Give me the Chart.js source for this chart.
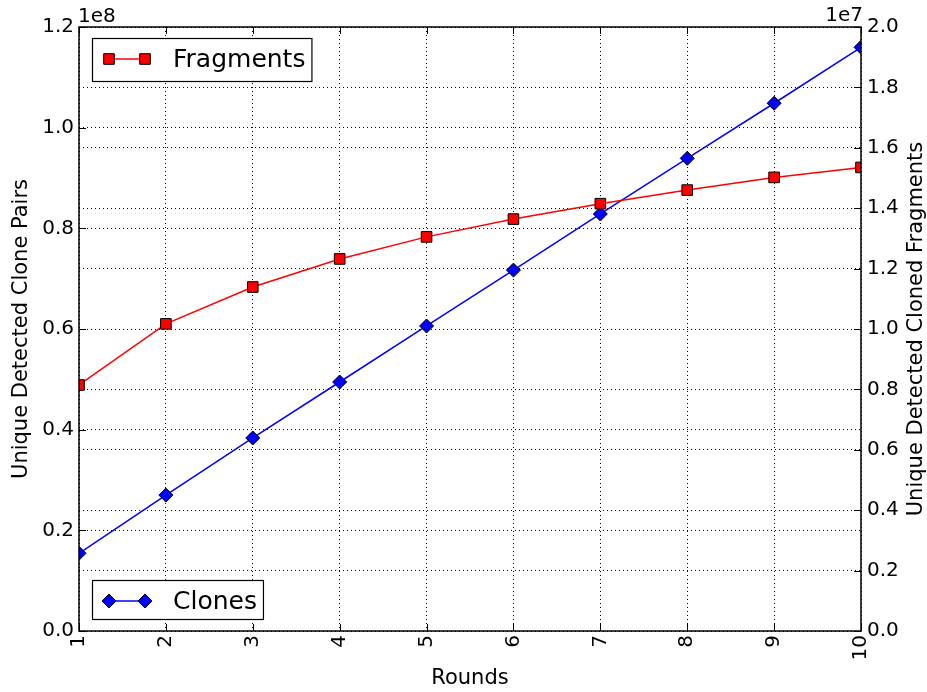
<!DOCTYPE html>
<html><head><meta charset="utf-8">
<script src="https://cdn.jsdelivr.net/npm/chart.js@4/dist/chart.umd.min.js"></script>
<style>html,body{margin:0;padding:0;background:#fff}#wrap{width:927px;height:692px;position:relative}</style>
</head><body><div id="wrap"><canvas id="c"></canvas></div>
<script>
const rounds = ['1','2','3','4','5','6','7','8','9','10'];
const clonePairs = [1.544e7, 2.70e7, 3.835e7, 4.947e7, 6.06e7, 7.17e7, 8.285e7, 9.39e7, 1.0485e8, 1.1597e8];
const clonedFragments = [8.146e6, 1.017e7, 1.139e7, 1.232e7, 1.305e7, 1.364e7, 1.415e7, 1.460e7, 1.502e7, 1.535e7];
const leftTickLabels = ['0.0','0.2','0.4','0.6','0.8','1.0','1.2'];
const rightTickLabels = ['0.0','0.2','0.4','0.6','0.8','1.0','1.2','1.4','1.6','1.8','2.0'];
const leftOffsetText = '1e8';
const rightOffsetText = '1e7';
const xTitle = 'Rounds';
const leftTitle = 'Unique Detected Clone Pairs';
const rightTitle = 'Unique Detected Cloned Fragments';

const FONT = "'DejaVu Sans', 'Liberation Sans', sans-serif";
const gridStyle = {color: '#000', lineWidth: 1, drawTicks: false};
const dash = [1, 3];

const overlayPlugin = {
  id: 'overlay',
  afterDatasetsDraw(chart) {
    const {ctx, chartArea: a, scales} = chart;
    ctx.save();
    ctx.strokeStyle = '#000';
    ctx.lineWidth = 1;
    const TL = 7;
    ctx.beginPath();
    scales.x.ticks.forEach((t, i) => {
      const px = Math.round(scales.x.getPixelForTick(i)) + 0.5;
      ctx.moveTo(px, a.bottom); ctx.lineTo(px, a.bottom - TL);
      ctx.moveTo(px, a.top); ctx.lineTo(px, a.top + TL);
    });
    scales.y.ticks.forEach(t => {
      const py = Math.round(scales.y.getPixelForValue(t.value)) + 0.5;
      ctx.moveTo(a.left, py); ctx.lineTo(a.left + TL, py);
    });
    scales.y1.ticks.forEach(t => {
      const py = Math.round(scales.y1.getPixelForValue(t.value)) + 0.5;
      ctx.moveTo(a.right, py); ctx.lineTo(a.right - TL, py);
    });
    ctx.stroke();
    ctx.lineWidth = 1.5;
    ctx.strokeRect(a.left, a.top, a.right - a.left, a.bottom - a.top);

    // offset texts
    ctx.fillStyle = '#000';
    ctx.font = '20px ' + FONT;
    ctx.textBaseline = 'alphabetic';
    ctx.textAlign = 'left';
    ctx.fillText(leftOffsetText, a.left - 1, a.top - 5);
    ctx.textAlign = 'right';
    ctx.fillText(rightOffsetText, a.right + 2, a.top - 6);

    // right axis title (reads bottom to top)
    ctx.save();
    ctx.font = '21px ' + FONT;
    ctx.translate(922, (a.top + a.bottom) / 2);
    ctx.rotate(-Math.PI / 2);
    ctx.textAlign = 'center';
    ctx.textBaseline = 'alphabetic';
    ctx.fillText(rightTitle, 0, 0);
    ctx.restore();

    // legends
    const drawLegend = (ds, boxTop, fromBottom) => {
      ctx.font = '25px ' + FONT;
      ctx.textAlign = 'left';
      ctx.textBaseline = 'alphabetic';
      const m = ctx.measureText(ds.label);
      const h = 39 + m.actualBoundingBoxDescent * 0.8;
      const top = fromBottom ? boxTop - h : boxTop;
      const bx = a.left + 13;
      const textX = bx + 81;
      const w = textX + m.width + 6 - bx;
      ctx.fillStyle = '#fff';
      ctx.fillRect(bx, top, w, h);
      ctx.strokeStyle = '#000';
      ctx.lineWidth = 1.2;
      ctx.strokeRect(bx + 0.5, top + 0.5, w, h);
      const my = top + 21;
      ctx.strokeStyle = ds.borderColor;
      ctx.lineWidth = ds.borderWidth;
      ctx.beginPath();
      ctx.moveTo(bx + 17, my); ctx.lineTo(bx + 53, my);
      ctx.stroke();
      [bx + 17, bx + 53].forEach(x => {
        ctx.fillStyle = ds.pointBackgroundColor;
        ctx.strokeStyle = ds.pointBorderColor;
        ctx.lineWidth = ds.pointBorderWidth;
        Chart.helpers.drawPoint(ctx, {pointStyle: ds.pointStyle, radius: ds.pointRadius, rotation: 0, borderWidth: ds.pointBorderWidth}, x, my);
      });
      ctx.fillStyle = '#000';
      ctx.fillText(ds.label, textX, top + 29);
    };
    drawLegend(chart.data.datasets[0], a.top + 11, false);
    drawLegend(chart.data.datasets[1], a.bottom - 12, true);
    ctx.restore();
  }
};

new Chart(document.getElementById('c'), {
  type: 'line',
  data: {
    labels: rounds,
    datasets: [
      {
        label: 'Fragments', data: clonedFragments, yAxisID: 'y1',
        borderColor: '#ff0000', backgroundColor: '#ff0000', borderWidth: 1.5,
        pointStyle: 'rect', pointRadius: 7.5, pointBackgroundColor: '#ff0000',
        pointBorderColor: '#000', pointBorderWidth: 1, tension: 0, clip: 0, order: 0
      },
      {
        label: 'Clones', data: clonePairs, yAxisID: 'y',
        borderColor: '#0000ff', backgroundColor: '#0000ff', borderWidth: 1.5,
        pointStyle: 'rectRot', pointRadius: 7, pointBackgroundColor: '#0000ff',
        pointBorderColor: '#000', pointBorderWidth: 1, tension: 0, clip: 0, order: 1
      }
    ]
  },
  options: {
    responsive: true,
    maintainAspectRatio: false,
    animation: false,
    devicePixelRatio: 1,
    layout: {padding: {top: 27, left: 0, right: 0, bottom: 0}},
    plugins: {legend: {display: false}, tooltip: {enabled: false}},
    elements: {point: {hoverRadius: 7}},
    scales: {
      x: {
        type: 'category', offset: false,
        grid: Object.assign({}, gridStyle),
        border: {display: false, dash: dash},
        ticks: {color: '#000', font: {family: FONT, size: 20}, minRotation: 90, maxRotation: 90, autoSkip: false, padding: 4},
        title: {display: true, text: xTitle, color: '#000', font: {family: FONT, size: 21}, padding: {top: 0, bottom: 1}},
        afterFit(s) { s.height = 61; }
      },
      y: {
        position: 'left', min: 0, max: 1.2e8,
        grid: Object.assign({}, gridStyle),
        border: {display: false, dash: dash},
        ticks: {stepSize: 2e7, color: '#000', font: {family: FONT, size: 20}, padding: 5,
          callback: (v, i) => leftTickLabels[i]},
        title: {display: true, text: leftTitle, color: '#000', font: {family: FONT, size: 21}, padding: {top: 9, bottom: 0}},
        afterFit(s) { s.width = 79; }
      },
      y1: {
        position: 'right', min: 0, max: 2e7,
        grid: Object.assign({}, gridStyle),
        border: {display: false, dash: dash},
        ticks: {stepSize: 2e6, color: '#000', font: {family: FONT, size: 20}, padding: 6,
          callback: (v, i) => rightTickLabels[i]},
        title: {display: false},
        afterFit(s) { s.width = 66; }
      }
    }
  },
  plugins: [overlayPlugin]
});
</script>
</body></html>
